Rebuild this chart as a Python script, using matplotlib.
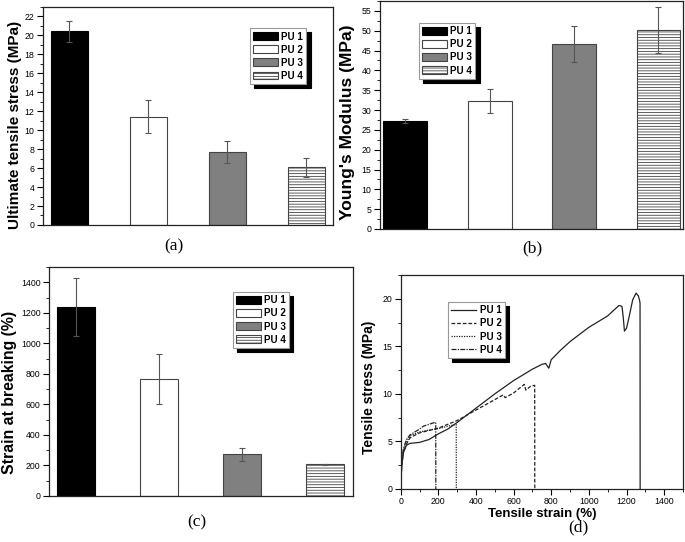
import numpy as np
import matplotlib
matplotlib.use('Agg')
from matplotlib import pyplot as plt
from matplotlib.ticker import MultipleLocator, AutoMinorLocator

plt.rcParams['font.family'] = ['Liberation Sans', 'DejaVu Sans']
plt.rcParams['hatch.linewidth'] = 0.6

labels = ['PU 1', 'PU 2', 'PU 3', 'PU 4']

# (a) ultimate tensile stress
uts = [20.4, 11.4, 7.7, 6.1]
uts_err = [1.1, 1.75, 1.2, 1.0]
# (b) Young's modulus
modulus = [27.2, 32.3, 46.7, 50.2]
modulus_err = [0.5, 3.1, 4.6, 5.7]
# (c) strain at breaking
strain_break = [1240, 765, 272, 207]
strain_break_err = [190, 165, 43, 5]

# (d) stress-strain curves
pu1_strain = [0, 5, 14, 30, 50, 100, 150, 200, 250, 300, 400, 500, 600, 700, 750, 770, 787,
              800, 850, 900, 1000, 1100, 1160, 1176, 1183, 1189, 1200, 1215, 1233, 1251, 1263, 1270, 1272, 1272.5]
pu1_stress = [0, 2.4, 3.8, 4.6, 4.8, 4.9, 5.2, 5.8, 6.3, 7.0, 8.5, 10.0, 11.4, 12.6, 13.1, 13.2, 12.7,
              13.6, 14.6, 15.5, 17.0, 18.2, 19.3, 19.2, 18.0, 16.6, 16.9, 18.2, 19.9, 20.6, 20.3, 19.8, 19.5, 0]
pu2_strain = [0, 5, 14, 30, 50, 100, 200, 300, 400, 500, 545, 555, 600, 657, 665, 690, 710, 712, 712.5]
pu2_stress = [0, 2.4, 3.8, 4.7, 5.4, 5.9, 6.4, 7.2, 8.3, 9.4, 9.9, 9.6, 10.1, 11.0, 10.4, 10.8, 10.9, 10.9, 0]
pu3_strain = [0, 5, 14, 30, 50, 100, 150, 200, 250, 295, 295.5]
pu3_stress = [0, 2.5, 4.0, 4.9, 5.6, 6.0, 6.2, 6.35, 6.6, 6.8, 0]
pu4_strain = [0, 5, 14, 30, 50, 67, 100, 120, 150, 173, 186, 186.5]
pu4_stress = [0, 2.6, 4.2, 5.2, 5.7, 5.9, 6.3, 6.6, 6.8, 6.95, 7.0, 0]

faces = ['black', 'white', '#808080', 'white']
edges = ['black', '#444444', '#444444', '#444444']
hatches = [None, None, None, '------']


def style_axes(ax):
    for s in ax.spines.values():
        s.set_linewidth(0.9)
        s.set_color('#222222')
    ax.tick_params(axis='both', which='major', direction='out', length=4, width=0.8, labelsize=6.3, pad=2)
    ax.tick_params(axis='both', which='minor', direction='out', length=2, width=0.6)


def legend_shadow(ax, handles, x, y, handlelength=2.5):
    leg = ax.legend(handles=handles, loc='upper left', bbox_to_anchor=(x, y), borderaxespad=0,
                    prop={'weight': 'bold', 'size': 7}, handlelength=handlelength, handleheight=0.85,
                    handletextpad=0.35, borderpad=0.35, labelspacing=0.32, fancybox=False,
                    framealpha=1, edgecolor='#999999',
                    shadow={'color': 'black', 'alpha': 1, 'ox': 3, 'oy': -3})
    leg.get_frame().set_linewidth(0.8)
    return leg


def bar_panel(ax, vals, errs, xlim, ylim, ymajor, ylabel, ysize, leg_xy, lab_xy, width):
    x = np.arange(1, 5)
    bars = ax.bar(x, vals, width=width, color=faces, edgecolor=edges, linewidth=0.8, zorder=2)
    for b, h, lab in zip(bars, hatches, labels):
        if h:
            b.set_hatch(h)
        b.set_label(lab)
    ax.errorbar(x, vals, yerr=errs, fmt='none', ecolor='#555555', elinewidth=0.8,
                capsize=2.5, capthick=0.8, zorder=3)
    ax.set_xlim(*xlim)
    ax.set_ylim(*ylim)
    ax.set_xticks([])
    ax.yaxis.set_major_locator(MultipleLocator(ymajor))
    ax.yaxis.set_minor_locator(AutoMinorLocator(2))
    style_axes(ax)
    ax.set_ylabel(ylabel, fontweight='bold', fontsize=ysize)
    ax.yaxis.set_label_coords(*lab_xy)
    legend_shadow(ax, list(bars), *leg_xy)


fig = plt.figure(figsize=(6.85, 5.42), dpi=100)

ax_a = fig.add_axes([0.0623, 0.5849, 0.4238, 0.4027])
bar_panel(ax_a, uts, uts_err, (0.66, 4.34), (0, 23), 2, 'Ultimate tensile stress (MPa)', 11,
          (0.714, 0.902), (-0.071, 0.459), 0.47)

ax_b = fig.add_axes([0.5547, 0.5775, 0.4423, 0.4207])
bar_panel(ax_b, modulus, modulus_err, (0.70, 4.29), (0, 57.5), 5, "Young's Modulus (MPa)", 12.5,
          (0.129, 0.904), (-0.083, 0.469), 0.52)

ax_c = fig.add_axes([0.0715, 0.0849, 0.4438, 0.4225])
bar_panel(ax_c, strain_break, strain_break_err, (0.675, 4.34), (0, 1500), 200, 'Strain at breaking (%)', 11.4,
          (0.605, 0.891), (-0.105, 0.454), 0.46)

ax_d = fig.add_axes([0.585, 0.0978, 0.412, 0.3948])
ax_d.plot(pu1_strain, pu1_stress, color='#222222', lw=0.9, ls='-', label='PU 1')
ax_d.plot(pu2_strain, pu2_stress, color='#222222', lw=0.9, ls=(0, (3, 1.5)), label='PU 2')
ax_d.plot(pu3_strain, pu3_stress, color='#222222', lw=0.9, ls=(0, (1, 1)), label='PU 3')
ax_d.plot(pu4_strain, pu4_stress, color='#222222', lw=0.9, ls=(0, (4, 1, 1, 1)), label='PU 4')
ax_d.set_xlim(0, 1500)
ax_d.set_ylim(0, 22.5)
ax_d.xaxis.set_major_locator(MultipleLocator(200))
ax_d.xaxis.set_minor_locator(AutoMinorLocator(2))
ax_d.yaxis.set_major_locator(MultipleLocator(5))
ax_d.yaxis.set_minor_locator(AutoMinorLocator(2))
style_axes(ax_d)
ax_d.set_ylabel('Tensile stress (MPa)', fontweight='bold', fontsize=10)
ax_d.yaxis.set_label_coords(-0.088, 0.477)
ax_d.set_xlabel('Tensile strain (%)', fontweight='bold', fontsize=9.5)
ax_d.xaxis.set_label_coords(0.5, -0.087)
legend_shadow(ax_d, ax_d.get_lines(), 0.166, 0.874, handlelength=2.6)

for txt, px, py in [('(a)', 174, 246), ('(b)', 532, 248), ('(c)', 197, 522), ('(d)', 578, 527)]:
    fig.text(px / 685, 1 - py / 542, txt, family='Liberation Serif', fontsize=12.5,
             ha='center', va='center')

fig.savefig('out.png', dpi=100)
